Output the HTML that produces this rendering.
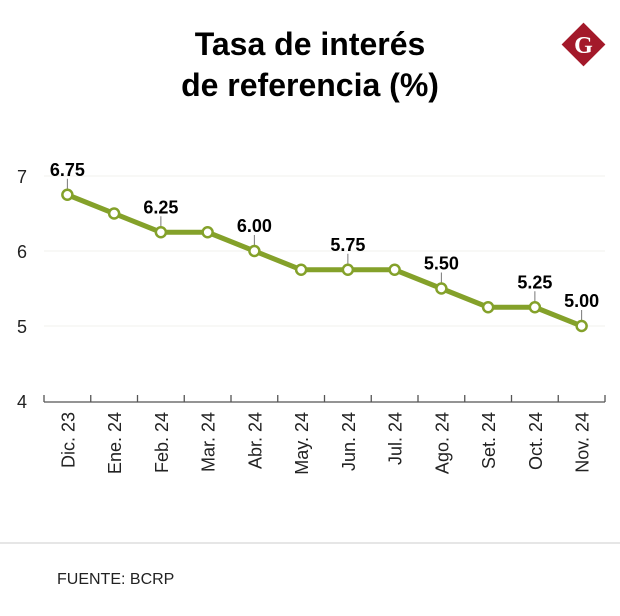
<!DOCTYPE html>
<html><head><meta charset="utf-8"><style>
body{margin:0;background:#fff;}
svg{display:block;font-family:"Liberation Sans",sans-serif;}
</style></head><body>
<svg id="c" width="620" height="616" viewBox="0 0 620 616">
<text x="310" y="55" text-anchor="middle" font-size="32" font-weight="bold" fill="#000">Tasa de interés</text>
<text x="310" y="96" text-anchor="middle" font-size="32" font-weight="bold" fill="#000">de referencia (%)</text>
<g>
<rect x="568" y="29" width="31" height="31" fill="#a3192a" transform="rotate(45 583.5 44.5)"/>
<text x="583.5" y="53" text-anchor="middle" font-family="Liberation Serif,serif" font-weight="bold" font-size="24" fill="#fff">G</text>
</g>
<line x1="0" y1="543" x2="620" y2="543" stroke="#ddd" stroke-width="1.5"/>
<text x="57" y="584" font-size="16" fill="#222">FUENTE: BCRP</text>
<g id="plot"></g>
</svg>
<script>
const categories=["Dic. 23","Ene. 24","Feb. 24","Mar. 24","Abr. 24","May. 24","Jun. 24","Jul. 24","Ago. 24","Set. 24","Oct. 24","Nov. 24"];
const values=[6.75,6.5,6.25,6.25,6.0,5.75,5.75,5.75,5.5,5.25,5.25,5.0];
const labels=["6.75",null,"6.25",null,"6.00",null,"5.75",null,"5.50",null,"5.25","5.00"];
const yTicks=[4,5,6,7];
const NS="http://www.w3.org/2000/svg";
const g=document.getElementById('plot');
const x0=44,x1=605,step=(x1-x0)/categories.length;
const xs=i=>x0+step*(i+0.5);
const ys=v=>401-(v-4)*75;
function mk(t,a){const e=document.createElementNS(NS,t);for(const k in a)e.setAttribute(k,a[k]);g.appendChild(e);return e;}
yTicks.forEach(t=>{
 if(t>4){const l=mk('line',{x1:x0,x2:x1,y1:ys(t),y2:ys(t),stroke:'#f2f2ec','stroke-width':1});
 
 }
 const tx=mk('text',{x:22,y:ys(t)+7,'text-anchor':'middle','font-size':18,fill:'#222'});
 tx.textContent=t;
 
 
});
const ax=mk('line',{x1:x0,x2:x1,y1:402,y2:402,stroke:'#555','stroke-width':1.3});


for(let i=0;i<=categories.length;i++){
 const t=mk('line',{x1:x0+step*i,x2:x0+step*i,y1:395,y2:402,stroke:'#555','stroke-width':1.3});
 
 
}
categories.forEach((c,i)=>{
 const t=mk('text',{x:0,y:0,'text-anchor':'end','font-size':18,fill:'#222',transform:`translate(${xs(i)+7},412) rotate(-90)`});
 t.textContent=c;
 
 
});
const line=mk('polyline',{points:values.map((v,i)=>xs(i)+','+ys(v)).join(' '),fill:'none',stroke:'#84a12a','stroke-width':5,'stroke-linejoin':'round'});


values.forEach((v,i)=>{
 if(labels[i]){
  const l=mk('line',{x1:xs(i),x2:xs(i),y1:ys(v)-5,y2:ys(v)-16,stroke:'#777','stroke-width':1});
  
  
  const t=mk('text',{x:xs(i),y:ys(v)-19,'text-anchor':'middle','font-size':18,'font-weight':'bold',fill:'#000'});
  t.textContent=labels[i];
  
  
 }
 const p=mk('circle',{cx:xs(i),cy:ys(v),r:5,fill:'#fff',stroke:'#84a12a','stroke-width':2.5});
 
 
});
</script>
</body></html>
